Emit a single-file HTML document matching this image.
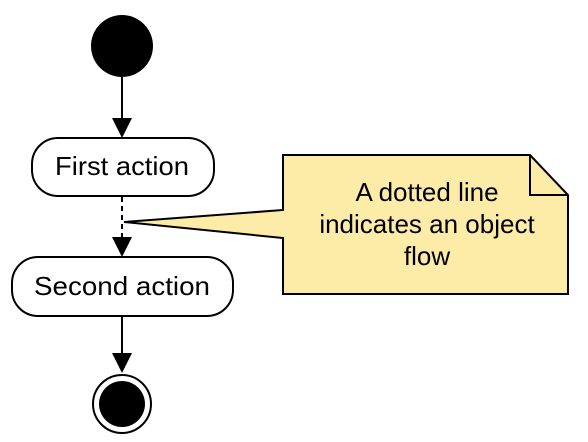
<!DOCTYPE html>
<html><head><style>body{margin:0;background:#fff}svg{display:block}</style></head><body>
<svg width="588" height="442" xmlns="http://www.w3.org/2000/svg" font-family="Liberation Sans, sans-serif">
<circle cx="122" cy="46" r="31" fill="#000"/>
<line x1="122" y1="77" x2="122" y2="120" stroke="#000" stroke-width="2"/>
<polygon points="112,118 132,118 122,138" fill="#000"/>
<rect x="32" y="138" width="182" height="58" rx="26" fill="#fff" stroke="#000" stroke-width="2"/>
<text x="122" y="175" font-size="26" text-anchor="middle" textLength="134" lengthAdjust="spacingAndGlyphs">First action</text>
<line x1="122" y1="197" x2="122" y2="238" stroke="#000" stroke-width="2" stroke-dasharray="5,4"/>
<polygon points="112,237 132,237 122,257" fill="#000"/>
<rect x="12" y="257" width="221" height="59" rx="26" fill="#fff" stroke="#000" stroke-width="2"/>
<text x="122" y="295" font-size="26" text-anchor="middle" textLength="176" lengthAdjust="spacingAndGlyphs">Second action</text>
<line x1="122" y1="316" x2="122" y2="355" stroke="#000" stroke-width="2"/>
<polygon points="112,353 132,353 122,373" fill="#000"/>
<circle cx="122" cy="404" r="29" fill="#fff" stroke="#000" stroke-width="2"/>
<circle cx="122" cy="404" r="23" fill="#000"/>
<path d="M283,155 L530,155 L568,195 L568,294 L283,294 L283,238 L124,222 L283,210 Z" fill="#fdeba8" stroke="#000" stroke-width="2"/>
<path d="M530,155 L530,195 L568,195" fill="none" stroke="#000" stroke-width="2"/>
<text font-size="26" text-anchor="middle"><tspan x="427" y="201">A dotted line</tspan><tspan x="427" y="233">indicates an object</tspan><tspan x="427" y="265">flow</tspan></text>
</svg>
</body></html>
